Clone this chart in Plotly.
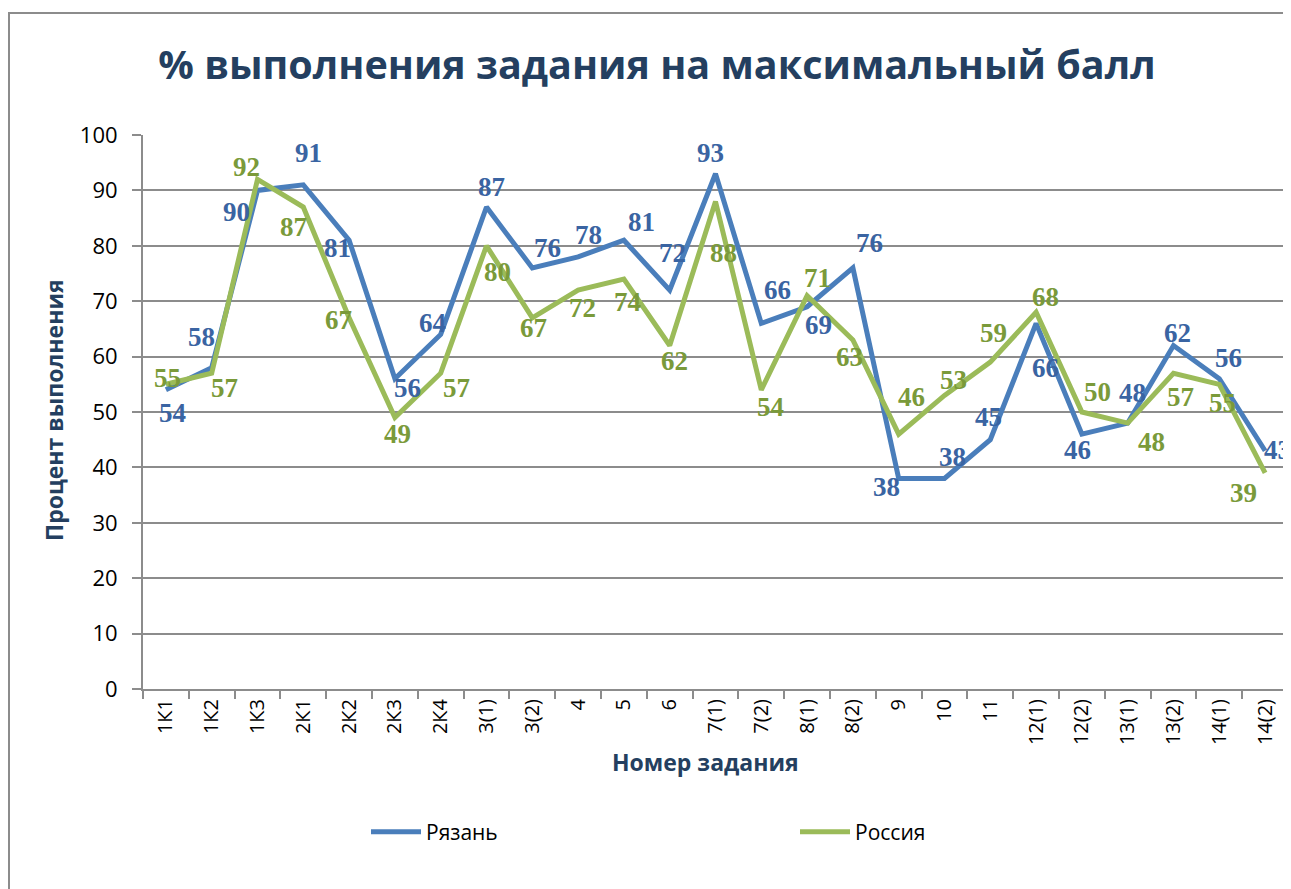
import plotly.graph_objects as go

categories = ["1К1", "1К2", "1К3", "2К1", "2К2", "2К3", "2К4", "3(1)", "3(2)", "4", "5", "6",
              "7(1)", "7(2)", "8(1)", "8(2)", "9", "10", "11", "12(1)", "12(2)", "13(1)", "13(2)",
              "14(1)", "14(2)"]
ryazan = [54, 58, 90, 91, 81, 56, 64, 87, 76, 78, 81, 72, 93, 66, 69, 76, 38, 38, 45, 66, 46, 48, 62, 56, 43]
russia = [55, 57, 92, 87, 67, 49, 57, 80, 67, 72, 74, 62, 88, 54, 71, 63, 46, 53, 59, 68, 50, 48, 57, 55, 39]

# label offsets in pixels (dx right, dy up) - styling only
ryazan_off = [(7, -23), (-10, 31), (-21, -22), (5, 32), (-12, -8), (13, -9), (-8, 11), (5, 20),
              (15, 20), (10, 22), (18, 18), (3, 37), (-5, 21), (16, 33), (11, -18), (17, 25),
              (-12, -9), (8, 21), (-2, 23), (9, -45), (-4, -16), (5, 30), (4, 13), (9, 21), (12, 1)]
russia_off = [(2, 6), (13, -15), (-11, 12), (-10, -20), (-11, -2), (3, -16), (16, -15), (11, -26),
              (1, -10), (4, -18), (4, -23), (5, -15), (8, -52), (9, -17), (10, 18), (-3, -17),
              (13, 37), (9, 15), (3, 29), (9, 15), (16, 20), (24, -19), (7, -24), (3, -19), (-22, -20)]

BLUE = "#4A7EBB"
GREEN = "#9BBB59"
BLUE_TXT = "#3A64A2"
GREEN_TXT = "#7A9A3A"
TITLE_C = "#243F60"
GRID = "#8C8C8C"

# page body has an 8px margin; work in page pixels and convert
OFF = 8
W, H = 1291 - OFF, 889 - OFF
PL, PR, PT, PB = 143, 1288, 135, 689  # plot area in page pixels
PW, PH = PR - PL, PB - PT


def px(xp):
    return (xp - PL) / PW


def py(yp):
    return (PB - yp) / PH


fig = go.Figure()
fig.add_trace(go.Scatter(x=categories, y=ryazan, mode="lines", name="Рязань",
                         line=dict(color=BLUE, width=5)))
fig.add_trace(go.Scatter(x=categories, y=russia, mode="lines", name="Россия",
                         line=dict(color=GREEN, width=5)))

annotations = []
for vals, offs, col in [(ryazan, ryazan_off, BLUE_TXT), (russia, russia_off, GREEN_TXT)]:
    for i, (v, (dx, dy)) in enumerate(zip(vals, offs)):
        annotations.append(dict(x=i, y=v, xref="x", yref="y", text="<b>%d</b>" % v,
                                showarrow=False, xshift=dx, yshift=dy,
                                font=dict(family="Liberation Serif", size=27, color=col)))

annotations.append(dict(text="<b>Процент выполнения</b>", xref="paper", yref="paper",
                        x=px(54), y=py(410), xanchor="center", yanchor="middle",
                        textangle=-90, showarrow=False,
                        font=dict(family="Open Sans", size=23, color=TITLE_C)))
annotations.append(dict(text="<b>Номер задания</b>", xref="paper", yref="paper",
                        x=px(705), y=py(762), xanchor="center", yanchor="middle",
                        showarrow=False,
                        font=dict(family="Open Sans", size=23, color=TITLE_C)))

fig.update_layout(
    width=W, height=H,
    margin=dict(l=PL - OFF, r=W - (PR - OFF), t=PT - OFF, b=H - (PB - OFF), autoexpand=False),
    paper_bgcolor="white", plot_bgcolor="white",
    title=dict(text="<b>% выполнения задания на максимальный балл</b>",
               x=(657 - OFF) / W, xanchor="center", y=1 - (65 - OFF) / H, yanchor="middle",
               font=dict(family="Open Sans", size=39.5, color=TITLE_C)),
    showlegend=True,
    legend=dict(orientation="h", x=px(366), xanchor="left",
                y=py(832), yanchor="middle",
                entrywidth=364, entrywidthmode="pixels", itemwidth=50,
                font=dict(family="Open Sans", size=21, color="black")),
    annotations=annotations,
    shapes=[dict(type="rect", xref="paper", yref="paper",
                 x0=px(9), x1=1.2, y0=-1.0, y1=py(13),
                 line=dict(color="#8C8C8C", width=2), layer="below")],
)
fig.update_xaxes(type="category", range=[-0.5, 24.5], showline=True, linecolor=GRID, linewidth=2,
                 ticks="outside", tickson="boundaries", ticklen=8, tickcolor=GRID, tickwidth=2,
                 tickangle=-90, showgrid=False,
                 tickfont=dict(family="Open Sans", size=20, color="black"))
fig.update_yaxes(range=[0, 100], dtick=10, showline=True, linecolor=GRID, linewidth=2,
                 ticks="outside", ticklen=9, tickcolor=GRID, tickwidth=2, ticklabelstandoff=10,
                 showgrid=True, gridcolor=GRID, gridwidth=2, zeroline=False,
                 tickfont=dict(family="Open Sans", size=22, color="black"))

fig.write_html("out.html")
